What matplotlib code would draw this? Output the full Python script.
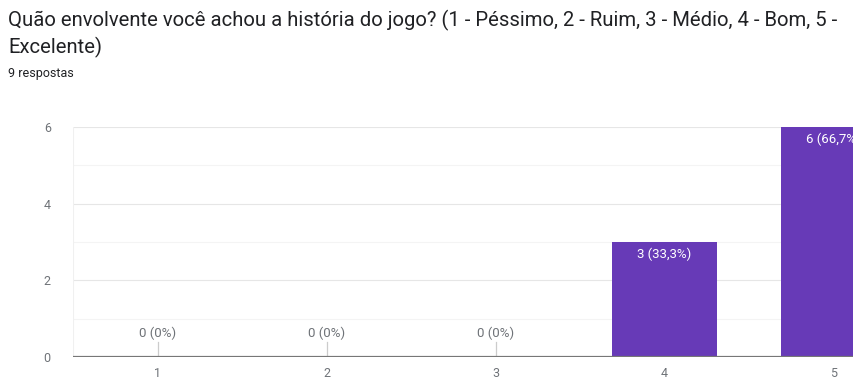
import matplotlib
matplotlib.use("Agg")
import matplotlib.pyplot as plt

plt.rcParams['font.family'] = ['Roboto', 'DejaVu Sans']

categories = ["1", "2", "3", "4", "5"]
counts = [0, 0, 0, 3, 6]
total = 9
title_lines = ["Quão envolvente você achou a história do jogo? (1 - Péssimo, 2 - Ruim, 3 - Médio, 4 - Bom, 5 -",
               "Excelente)"]
subtitle = "9 respostas"
y_ticks = [0, 2, 4, 6]

W, H = 854, 381
fig = plt.figure(figsize=(W / 100, H / 100), dpi=100)

# the axes runs past the right edge of the figure, so the last bar is clipped
left, right, bottom, top = 73, 918, 357, 127
ax = fig.add_axes([left / W, 1 - bottom / H, (right - left) / W, (bottom - top) / H])

x = list(range(1, len(categories) + 1))
purple = "#673AB7"
ax.bar(x, counts, width=0.62, color=purple, zorder=3)

ax.set_xlim(0.5, len(categories) + 0.5)
ax.set_ylim(0, 6)

# grid: major lines at even values, fainter ones in between
for v in [1, 3, 5]:
    ax.axhline(v, color="#f4f4f4", lw=0.8, zorder=1)
for v in [2, 4, 6]:
    ax.axhline(v, color="#e6e6e6", lw=0.8, zorder=1)
ax.axhline(0, color="#777777", lw=1.6, zorder=4)
ax.axvline(0.5, color="#f0f0f0", lw=0.8, zorder=1)

for s in ax.spines.values():
    s.set_visible(False)
ax.set_yticks(y_ticks)
ax.set_yticklabels([str(v) for v in y_ticks])
ax.set_xticks(x)
ax.set_xticklabels(categories)
ax.tick_params(axis="both", length=0, colors="#6f7378", labelsize=9)
ax.tick_params(axis="y", pad=16)
ax.tick_params(axis="x", pad=7)

for xi, c in zip(x, counts):
    pct = 100 * c / total
    pct_txt = f"{pct:.1f}".replace(".", ",") if pct % 1 else f"{pct:.0f}"
    label = f"{c} ({pct_txt}%)"
    if c == 0:
        ax.plot([xi, xi], [0, 0.4], color="#cccccc", lw=0.9, zorder=2)
        ax.text(xi, 0.62, label, ha="center", va="center", fontsize=9.5, color="#6f7378")
    else:
        ax.text(xi, c - 0.33, label, ha="center", va="center", fontsize=9.5, color="white",
                zorder=5, clip_on=False)

fig.text(8 / W, 1 - 20 / H, title_lines[0], ha="left", va="center", fontsize=14.6, color="#202124")
fig.text(8 / W, 1 - 47 / H, title_lines[1], ha="left", va="center", fontsize=14.6, color="#202124")
fig.text(8 / W, 1 - 73 / H, subtitle, ha="left", va="center", fontsize=9, color="#202124")

fig.savefig("out.png", dpi=100)
